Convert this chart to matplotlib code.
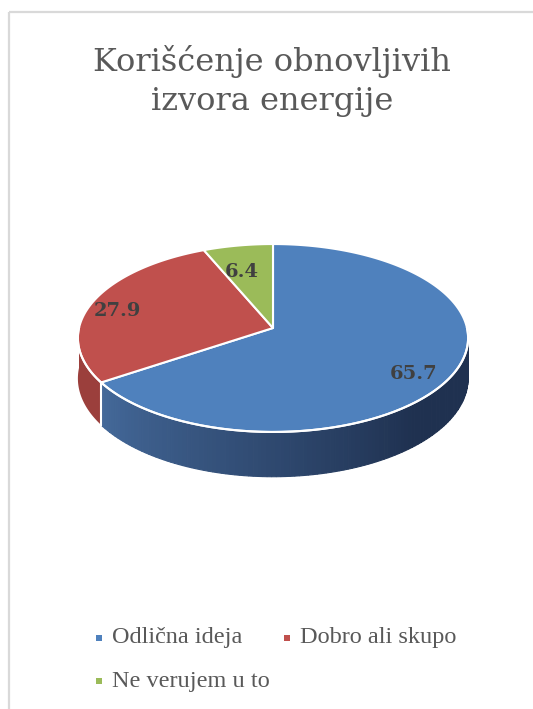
import numpy as np
import matplotlib.pyplot as plt
from matplotlib.patches import Polygon, Rectangle
from matplotlib.colors import to_rgb

# podaci
kategorije = ["Odlična ideja", "Dobro ali skupo", "Ne verujem u to"]
vrednosti = [65.7, 27.9, 6.4]
boje = ["#4f81bd", "#c0504d", "#9bbb59"]
boje_strana = ["#3f6797", "#9b3f3c", "#7e9a48"]
naslov = "Korišćenje obnovljivih\nizvora energije"

plt.rcParams["font.family"] = ["DejaVu Serif"]

fig = plt.figure(figsize=(5.33, 7.09), dpi=100)
ax = fig.add_axes([0, 0, 1, 1])
ax.set_xlim(0, 533)
ax.set_ylim(709, 0)
ax.axis("off")

# okvir
ax.add_patch(Rectangle((8.5, 11.5), 600, 800, fill=False, ec="#d9d9d9", lw=1.6))

# geometrija 3D pite (perspektiva)
cx, cy = 273, 328
R, A, k = 194, 92.9, 0.1064
dubina = 40


def tacka(ugao_deg, dz=0.0):
    t = np.radians(ugao_deg)
    u, v = np.cos(t), np.sin(t)
    s = 1 + k * v
    return cx + R * u / s, cy - A * v / s + dz / s


def luk(a0, a1, n=200, dz=0.0):
    ts = np.linspace(a0, a1, n)
    return np.array([tacka(t, dz) for t in ts])


# uglovi: pocinje od 12h, u smeru kazaljke
ukupno = sum(vrednosti)
pocetak = 90.0
uglovi = []
for v in vrednosti:
    kraj = pocetak - v / ukupno * 360
    uglovi.append((pocetak, kraj))
    pocetak = kraj

# bocne strane (vidljiv prednji deo: 180..360)
for i, (a0, a1) in enumerate(uglovi):
    lo, hi = min(a0, a1), max(a0, a1)
    for pomeraj in (0, 360, -360):
        l, h = lo + pomeraj, hi + pomeraj
        l2, h2 = max(l, 180), min(h, 360)
        if h2 <= l2:
            continue
        if i == 0:
            # gradijent na plavoj strani
            c_l = np.array(to_rgb("#44699a"))
            c_d = np.array(to_rgb("#1f3150"))
            koraci = 120
            granice = np.linspace(l2, h2, koraci + 1)
            for j in range(koraci):
                g = luk(granice[j], granice[j + 1], 6)
                d = luk(granice[j + 1], granice[j], 6, dubina)
                f = (granice[j] - l2) / (h2 - l2)
                f = min(1, f * 1.5)
                boja = c_l * (1 - f) + c_d * f
                ax.add_patch(Polygon(np.vstack([g, d]), closed=True,
                                     fc=boja, ec=boja, lw=0.8, zorder=2))
        else:
            g = luk(l2, h2, 100)
            d = luk(h2, l2, 100, dubina)
            ax.add_patch(Polygon(np.vstack([g, d]), closed=True,
                                 fc=boje_strana[i], ec="none", zorder=2))

# vertikalna ivica izmedju plave i crvene strane
x_ivica, y_ivica = tacka(uglovi[0][1])
_, y_dno = tacka(uglovi[0][1], dubina)
ax.plot([x_ivica, x_ivica], [y_ivica, y_dno], color="white", lw=1.5, zorder=3)

# gornja povrsina
for i, (a0, a1) in enumerate(uglovi):
    pts = np.vstack([[cx, cy], luk(a0, a1, 200)])
    ax.add_patch(Polygon(pts, closed=True, fc=boje[i], ec="white", lw=1.5,
                         joinstyle="round", zorder=4))

# svetla ivica prednjeg luka
prednji = luk(180, 360, 200)
ax.plot(prednji[:, 0], prednji[:, 1], color="white", lw=1.5, zorder=5)

# oznake vrednosti
pozicije = [(414, 374), (117, 311), (242, 272)]
for v, (x, y) in zip(vrednosti, pozicije):
    ax.text(x, y, f"{v:.1f}", ha="center", va="center", fontsize=14,
            fontweight="bold", color="#404040", zorder=6)

# naslov
ax.text(272, 81, naslov, ha="center", va="center", fontsize=23,
        color="#595959", linespacing=1.32)

# legenda
legenda = [(112, 638), (300, 638), (112, 681)]
for i, (x, y) in enumerate(legenda):
    ax.add_patch(Rectangle((x - 16, y - 3), 5.5, 5.5, fc=boje[i], ec="none"))
    ax.text(x, y, kategorije[i], ha="left", va="center", fontsize=17.5,
            color="#595959", family=["Liberation Serif", "DejaVu Serif"])

fig.savefig("out.png", dpi=100)
